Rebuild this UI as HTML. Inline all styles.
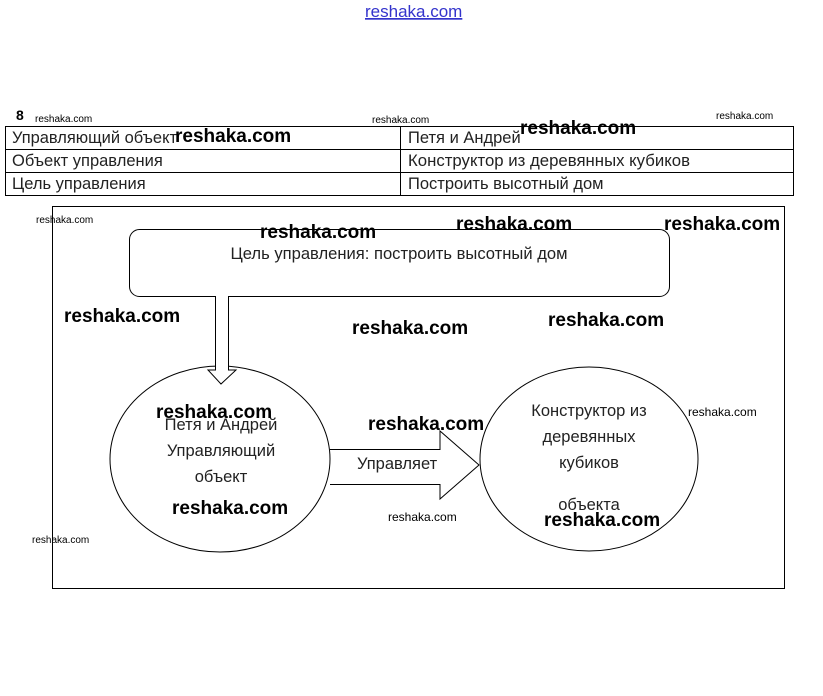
<!DOCTYPE html>
<html><head><meta charset="utf-8"><style>
body{margin:0;background:#fff;width:823px;height:691px;overflow:hidden;font-family:"Liberation Sans","DejaVu Sans",sans-serif;}
</style></head><body>
<svg width="823" height="691" xmlns="http://www.w3.org/2000/svg" font-family="Liberation Sans, DejaVu Sans, sans-serif">
<text x="365" y="17" font-size="17" fill="#3333cc" text-decoration="underline">reshaka.com</text>
<text x="16" y="120" font-size="14" font-weight="bold">8</text>
<text x="35" y="122" font-size="10">reshaka.com</text>
<text x="372" y="123" font-size="10">reshaka.com</text>
<text x="716" y="119" font-size="10">reshaka.com</text>
<g fill="none" stroke="#000" stroke-width="1">
<rect x="5.5" y="126.5" width="788" height="69"/>
<line x1="5" y1="149.5" x2="793" y2="149.5"/>
<line x1="5" y1="172.5" x2="793" y2="172.5"/>
<line x1="400.5" y1="126" x2="400.5" y2="196"/>
<rect x="52.5" y="206.5" width="732" height="382"/>
<rect x="129.5" y="229.5" width="540" height="67" rx="10"/>
<ellipse cx="220" cy="459" rx="110" ry="93"/>
<ellipse cx="589" cy="459" rx="109" ry="92"/>
</g>
<g font-size="16.5" fill="#222">
<text x="12" y="143" textLength="165" lengthAdjust="spacingAndGlyphs">Управляющий объект</text>
<text x="408" y="143">Петя и Андрей</text>
<text x="12" y="166">Объект управления</text>
<text x="408" y="166" textLength="282" lengthAdjust="spacingAndGlyphs">Конструктор из деревянных кубиков</text>
<text x="12" y="189">Цель управления</text>
<text x="408" y="189">Построить высотный дом</text>
<text x="399" y="259" text-anchor="middle" textLength="337" lengthAdjust="spacingAndGlyphs">Цель управления: построить высотный дом</text>
<text x="221" y="430" text-anchor="middle">Петя и Андрей</text>
<text x="221" y="456" text-anchor="middle">Управляющий</text>
<text x="221" y="482" text-anchor="middle">объект</text>
<text x="589" y="416" text-anchor="middle">Конструктор из</text>
<text x="589" y="442" text-anchor="middle">деревянных</text>
<text x="589" y="468" text-anchor="middle">кубиков</text>
<text x="589" y="510" text-anchor="middle">объекта</text>
<text x="357" y="469">Управляет</text>
</g>
<path d="M215.5 296 V370 L208 370 L221 384 L236 370 L228.5 370 V296" fill="#fff" stroke="#000"/>
<path d="M330 449.5 H440 V431 L479 465 L440 499 V484.5 H330" fill="none" stroke="#000"/>
<g font-size="19" font-weight="bold" fill="#000">
<text x="175" y="142">reshaka.com</text>
<text x="520" y="134">reshaka.com</text>
<text x="260" y="238">reshaka.com</text>
<text x="456" y="230">reshaka.com</text>
<text x="664" y="230">reshaka.com</text>
<text x="64" y="322">reshaka.com</text>
<text x="352" y="334">reshaka.com</text>
<text x="548" y="326">reshaka.com</text>
<text x="156" y="418">reshaka.com</text>
<text x="368" y="430">reshaka.com</text>
<text x="172" y="514">reshaka.com</text>
<text x="544" y="526">reshaka.com</text>
</g>
<g font-size="12" fill="#000">
<text x="688" y="416">reshaka.com</text>
<text x="388" y="521">reshaka.com</text>
</g>
<g font-size="10" fill="#000">
<text x="36" y="223">reshaka.com</text>
<text x="32" y="543">reshaka.com</text>
</g>
</svg>
</body></html>
